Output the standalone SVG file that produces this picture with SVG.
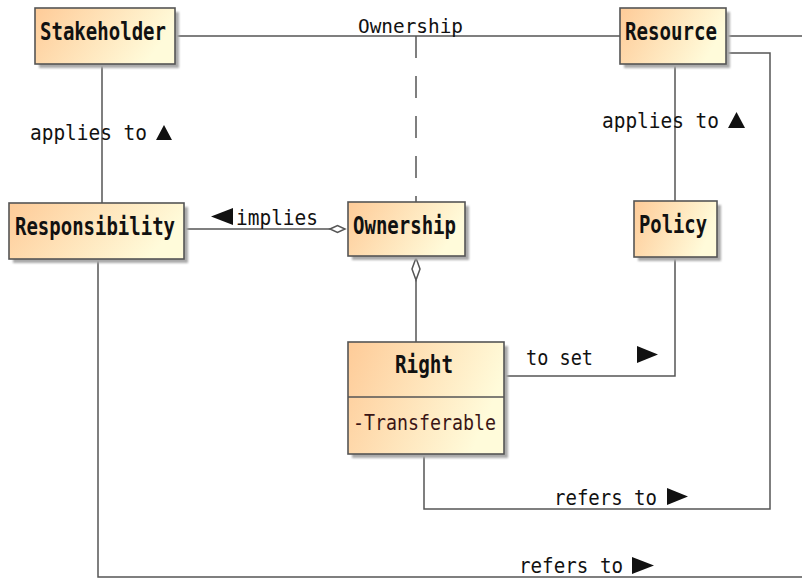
<svg xmlns="http://www.w3.org/2000/svg" width="802" height="578" viewBox="0 0 802 578">
<defs>
<linearGradient id="g" x1="0" y1="0" x2="1" y2="0.3">
<stop offset="0" stop-color="#FECB98"/>
<stop offset="1" stop-color="#FFFBDA"/>
</linearGradient>
<filter id="sh" x="-10%" y="-10%" width="130%" height="130%">
<feGaussianBlur stdDeviation="1.2"/>
</filter>
</defs>
<style>
.box{fill:url(#g);stroke:#555;stroke-width:1.6}
.shadow{fill:#aaa;filter:url(#sh)}
.name{font-family:"DejaVu Sans Mono","Liberation Mono",monospace;font-weight:bold;font-size:24px;fill:#111}
.lbl{font-family:"DejaVu Sans Mono","Liberation Mono",monospace;font-size:21px;fill:#111}
.attr{font-family:"DejaVu Sans Mono","Liberation Mono",monospace;font-size:22px;fill:#3a1515}
.ln{fill:none;stroke:#555;stroke-width:1.5}
.tri{fill:#111}
.dia{fill:#fff;stroke:#555;stroke-width:1.5}
</style>
<rect width="802" height="578" fill="#fff"/>
<g id="connectors">
<polyline class="ln" points="175,36 620,36"/>
<polyline class="ln" points="726,36 802,36"/>
<polyline class="ln" points="416,36 416,202" stroke-dasharray="22,18"/>
<polyline class="ln" points="102,64 102,203"/>
<polyline class="ln" points="675,64 675,201"/>
<polyline class="ln" points="184,229 330,229"/>
<polygon class="dia" points="330,229 337.5,225.5 345,229 337.5,232.5"/>
<polyline class="ln" points="416,280 416,342"/>
<polygon class="dia" points="416,258 420,269 416,280 412,269"/>
<polyline class="ln" points="675,257 675,376 504,376"/>
<polyline class="ln" points="726,53 770,53 770,509 424,509 424,454"/>
<polyline class="ln" points="98,259 98,577 802,577"/>
<text class="lbl" x="358" y="33" textLength="105" lengthAdjust="spacingAndGlyphs" style="font-size:20px">Ownership</text>
<text class="lbl" x="30" y="140" textLength="117" lengthAdjust="spacingAndGlyphs">applies to</text>
<polygon class="tri" points="164,125 172,140 156,140"/>
<text class="lbl" x="602" y="128" textLength="117" lengthAdjust="spacingAndGlyphs">applies to</text>
<polygon class="tri" points="736.5,112 745,128 728,128"/>
<polygon class="tri" points="211,216.5 233,208 233,225"/>
<text class="lbl" x="236" y="225" textLength="82" lengthAdjust="spacingAndGlyphs">implies</text>
<text class="lbl" x="526" y="365" textLength="67" lengthAdjust="spacingAndGlyphs">to set</text>
<polygon class="tri" points="637,346 658,354.5 637,363"/>
<text class="lbl" x="554" y="505" textLength="103" lengthAdjust="spacingAndGlyphs">refers to</text>
<polygon class="tri" points="667,488 688,496.5 667,505"/>
<text class="lbl" x="519" y="573" textLength="104" lengthAdjust="spacingAndGlyphs">refers to</text>
<polygon class="tri" points="632,557 654,565.5 632,574"/>
</g>
<g id="Stakeholder">
<rect class="shadow" x="39" y="12" width="140" height="56"/>
<rect class="box" x="35" y="8" width="140" height="56"/>
<text class="name" x="40" y="40" textLength="126" lengthAdjust="spacingAndGlyphs">Stakeholder</text>
</g>
<g id="Resource">
<rect class="shadow" x="624" y="12" width="106" height="56"/>
<rect class="box" x="620" y="8" width="106" height="56"/>
<text class="name" x="625" y="40" textLength="92" lengthAdjust="spacingAndGlyphs">Resource</text>
</g>
<g id="Responsibility">
<rect class="shadow" x="13" y="207" width="175" height="56"/>
<rect class="box" x="9" y="203" width="175" height="56"/>
<text class="name" x="15" y="235" textLength="160" lengthAdjust="spacingAndGlyphs">Responsibility</text>
</g>
<g id="Ownership">
<rect class="shadow" x="352" y="206" width="117" height="54"/>
<rect class="box" x="348" y="202" width="117" height="54"/>
<text class="name" x="353" y="234" textLength="103" lengthAdjust="spacingAndGlyphs">Ownership</text>
</g>
<g id="Policy">
<rect class="shadow" x="638" y="205" width="83" height="56"/>
<rect class="box" x="634" y="201" width="83" height="56"/>
<text class="name" x="639" y="233" textLength="68" lengthAdjust="spacingAndGlyphs">Policy</text>
</g>
<g id="Right">
<rect class="shadow" x="352" y="346" width="156" height="112"/>
<rect class="box" x="348" y="342" width="156" height="112"/>
<line class="ln" x1="348" y1="397" x2="504" y2="397"/>
<text class="name" x="395" y="373" textLength="58" lengthAdjust="spacingAndGlyphs">Right</text>
<text class="attr" x="353" y="430" textLength="143" lengthAdjust="spacingAndGlyphs">-Transferable</text>
</g>
</svg>
